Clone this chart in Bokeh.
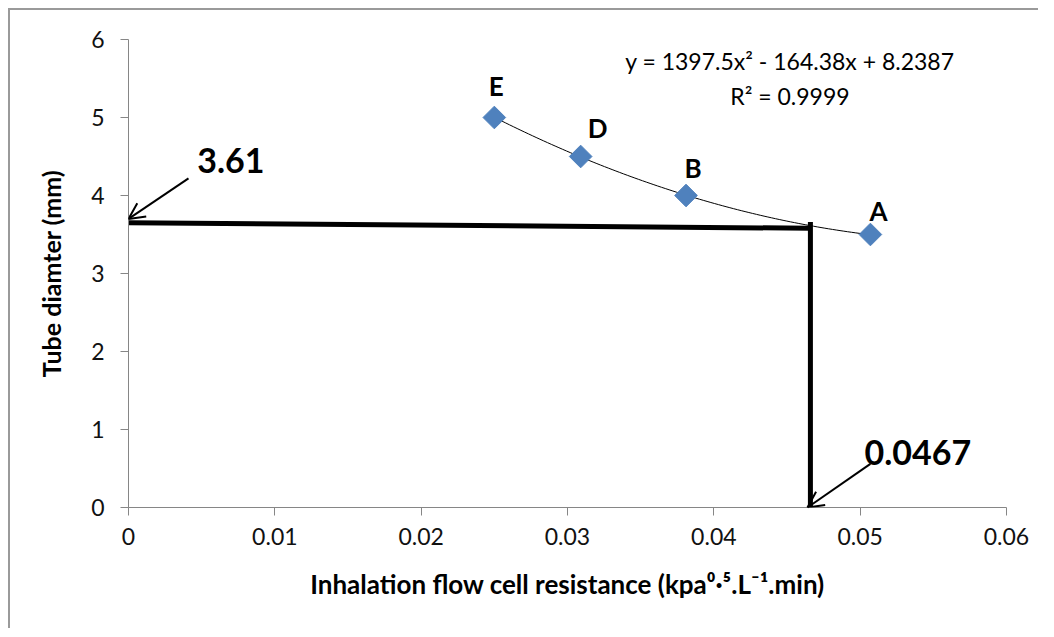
from bokeh.plotting import figure
from bokeh.models import (Range1d, FixedTicker, Label, Arrow, OpenHead, ColumnDataSource)
from bokeh.embed import file_html
from bokeh.resources import INLINE
import numpy as np

# ---- data ----
point_names = ["E", "D", "B", "A"]
resistance = [0.0250, 0.0309, 0.0381, 0.0507]
diameter = [5.0, 4.5, 4.0, 3.5]
label_dx = [2, 17, 7, 8]       # label offsets (px)
label_dy = [32, 29, 28, 24]

trend_coef = [1397.5, -164.38, 8.2387]
trend_range = [0.0250, 0.0507]
equation_text = "y = 1397.5x² - 164.38x + 8.2387"
r2_text = "R² = 0.9999"

read_x = 0.0467
read_y = 3.61
guide_h_x = [0.0, 0.0466]
guide_h_y = [3.65, 3.58]
guide_v_x = [0.0466, 0.0466]
guide_v_y = [3.66, 0.0]

x_ticks = [0, 0.01, 0.02, 0.03, 0.04, 0.05, 0.06]
x_tick_labels = ["0", "0.01", "0.02", "0.03", "0.04", "0.05", "0.06"]
y_ticks = [0, 1, 2, 3, 4, 5, 6]
y_tick_labels = ["0", "1", "2", "3", "4", "5", "6"]

FONT = "Lato"
AXIS_GRAY = "#868686"

p = figure(width=1030, height=620, output_backend="svg", toolbar_location=None,
           x_range=Range1d(0, 0.06), y_range=Range1d(0, 6),
           min_border_left=118, min_border_top=29, min_border_right=34, min_border_bottom=123)
p.styles = {"margin-left": "8px", "margin-top": "8px",
            "border-top": "2px solid #9a9a9a", "border-left": "2px solid #9a9a9a"}
p.outline_line_color = None
p.xgrid.grid_line_color = None
p.ygrid.grid_line_color = None

for ax, ticks, labels in ((p.xaxis[0], x_ticks, x_tick_labels), (p.yaxis[0], y_ticks, y_tick_labels)):
    ax.ticker = FixedTicker(ticks=ticks)
    ax.major_label_overrides = dict(zip(ticks, labels))
    ax.minor_tick_line_color = None
    ax.axis_line_color = AXIS_GRAY
    ax.major_tick_line_color = AXIS_GRAY
    ax.major_tick_out = 8
    ax.major_tick_in = 0
    ax.major_label_text_font = FONT
    ax.major_label_text_font_size = "23px"
    ax.major_label_text_color = "#111111"
    ax.axis_label_text_font = FONT
    ax.axis_label_text_font_style = "bold"
    ax.axis_label_text_font_size = "25px"
    ax.axis_label_text_color = "#000000"

p.xaxis.axis_label_text_font_size = "26px"
p.xaxis.major_label_standoff = 12
p.yaxis.major_label_standoff = 16
p.xaxis.axis_label = "Inhalation flow cell resistance (kpa⁰·⁵.L⁻¹.min)"
p.yaxis.axis_label = "Tube diamter (mm)"
p.xaxis.axis_label_standoff = 20
p.yaxis.axis_label_standoff = 22

# trendline from equation coefficients
xs = np.linspace(trend_range[0], trend_range[1], 100)
ys = trend_coef[0] * xs ** 2 + trend_coef[1] * xs + trend_coef[2]
p.line(xs, ys, line_color="black", line_width=1)

# guide lines
p.line(guide_h_x, guide_h_y, line_color="black", line_width=5)
p.line(guide_v_x, guide_v_y, line_color="black", line_width=5)

# points
src = ColumnDataSource(dict(x=resistance, y=diameter, name=point_names))
p.scatter("x", "y", source=src, marker="square", size=16, angle=np.pi / 4,
          fill_color="#4F81BD", line_color="#4F81BD")
for xv, yv, nm, dx, dy in zip(resistance, diameter, point_names, label_dx, label_dy):
    p.add_layout(Label(x=xv, y=yv, x_offset=dx, y_offset=dy, text=nm,
                       text_font=FONT, text_font_style="bold", text_font_size="26px",
                       text_align="center", text_baseline="middle", text_color="black"))

# equation
p.add_layout(Label(x=0.0452, y=5.72, text=equation_text, text_font=FONT, text_color="black",
                   text_font_size="23px", text_align="center", text_baseline="middle"))
p.add_layout(Label(x=0.0452, y=5.28, text=r2_text, text_font=FONT, text_color="black",
                   text_font_size="23px", text_align="center", text_baseline="middle"))

# reading annotations
p.add_layout(Label(x=0.0047, y=4.45, text=f"{read_y:.2f}", text_font=FONT, text_color="black",
                   text_font_style="bold", text_font_size="34px",
                   text_align="left", text_baseline="middle"))
p.add_layout(Label(x=0.0503, y=0.70, text=f"{read_x:.4f}", text_font=FONT, text_color="black",
                   text_font_style="bold", text_font_size="34px",
                   text_align="left", text_baseline="middle"))
p.add_layout(Arrow(x_start=0.0041, y_start=4.22, x_end=0.0, y_end=3.70,
                   line_width=2, line_color="black",
                   end=OpenHead(size=16, line_width=2, line_color="black")))
p.add_layout(Arrow(x_start=0.0507, y_start=0.56, x_end=0.0464, y_end=0.0,
                   line_width=2, line_color="black",
                   end=OpenHead(size=16, line_width=2, line_color="black")))

open("out.html", "w").write(file_html(p, INLINE))
